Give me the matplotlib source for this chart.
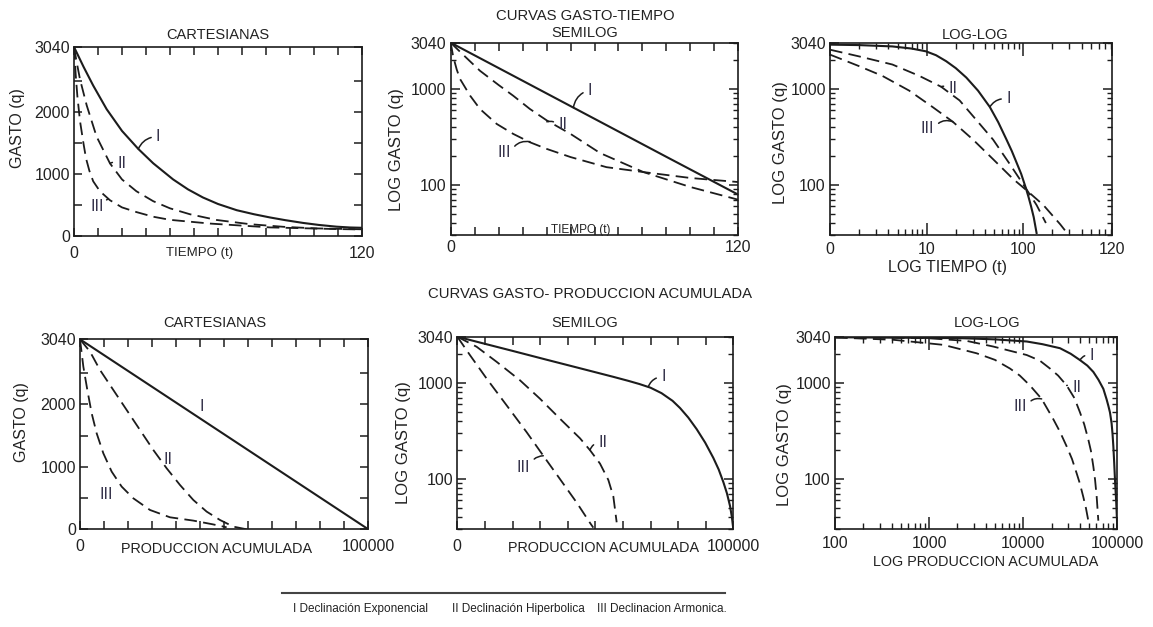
import matplotlib
matplotlib.use("Agg")
import matplotlib.pyplot as plt
from matplotlib.lines import Line2D
from matplotlib.ticker import NullFormatter, FixedLocator, LogLocator

plt.rcParams['font.family'] = ['Liberation Sans', 'DejaVu Sans']

# ---------------- data ----------------
# Gasto-tiempo, cartesianas
T1_I = [0, 4, 8, 13.6, 20, 26.8, 33, 41.3, 47.5, 53.7, 60, 67.8, 75, 81.7, 88, 95.5, 102, 109.4, 115, 120]
Q1_I = [3040, 2720, 2420, 2040, 1690, 1400, 1170, 910, 750, 620, 515, 415, 350, 298, 255, 210, 178, 150, 137, 132]
T1_II = [0, 1, 2.5, 5.3, 9.4, 15, 20, 26, 33, 40, 48.3, 59.4, 73.3, 87.2, 101, 120]
Q1_II = [3040, 2820, 2520, 2100, 1600, 1167, 910, 720, 560, 445, 350, 258, 190, 148, 122, 108]
T1_III = [0, 0.7, 1.4, 2.5, 3.9, 5.0, 6.4, 8.0, 10.8, 15, 20, 26, 33, 40, 56.7, 81.7, 109, 120]
Q1_III = [3040, 2600, 2250, 1850, 1500, 1250, 1050, 880, 720, 575, 460, 385, 310, 260, 200, 138, 112, 105]

# Gasto-tiempo, semilog
T2_I = [0, 30, 60, 90, 120]
Q2_I = [3040, 1220, 489, 196, 79]
T2_II = [0, 5, 12.2, 20, 26.1, 33, 40.1, 50, 62.3, 80.4, 100, 120]
Q2_II = [3040, 2300, 1550, 1100, 850, 620, 470, 340, 215, 136, 95, 70]
T2_III = [0, 1, 2.5, 3.9, 8.1, 12.2, 19.2, 26.1, 33.1, 40.1, 50, 65, 80.4, 100, 120]
Q2_III = [3040, 2200, 1600, 1271, 852, 619, 432, 340, 278, 237, 195, 153, 136, 118, 107]

# Gasto-tiempo, log-log
T3_I = [1, 2, 4.42, 7, 9.84, 12.5, 15.9, 20, 25.7, 34, 45, 55, 67, 76, 85, 95, 106, 113, 120, 128, 137]
Q3_I = [2900, 2870, 2780, 2640, 2470, 2250, 1950, 1650, 1316, 960, 649, 450, 296, 225, 171, 130, 93, 75, 60, 46, 31.5]
T3_II = [1, 1.99, 4.42, 8.39, 14.1, 21.9, 32.7, 48.7, 72.6, 108, 137, 171]
Q3_II = [2570, 2190, 1800, 1370, 1056, 760, 474, 296, 164, 89.6, 61.6, 40]
T3_III = [1, 1.99, 3.48, 6.6, 11.5, 18.6, 30.2, 48.7, 78.5, 108, 161, 241, 283]
Q3_III = [2283, 1734, 1370, 961, 649, 456, 296, 185, 115, 87.7, 61.6, 38.7, 31.5]

# Gasto-produccion acumulada, cartesianas
N4_I = [0, 50000, 100000]
Q4_I = [3040, 1520, 0]
N4_II = [0, 3468, 6936, 11561, 16185, 20809, 25434, 30058, 34682, 39306, 43931, 48555, 53179, 57803]
Q4_II = [3040, 2843, 2549, 2229, 1909, 1589, 1269, 976, 709, 469, 283, 149, 43, 0]
N4_III = [0, 1156, 2543, 4046, 5780, 8092, 10983, 14451, 18497, 24277, 31214, 39306, 46000, 50867]
Q4_III = [3040, 2603, 2229, 1856, 1536, 1216, 923, 683, 496, 309, 192, 139, 80, 32]

# Gasto-produccion acumulada, semilog
N5_I = [0, 8213, 20294, 32374, 44454, 56534, 62000, 66000, 70000, 74000, 78000, 80694, 83700,
        86734, 89800, 92774, 94700, 96398, 97700, 98814, 99500, 100000]
Q5_I = [3040, 2642, 2153, 1750, 1426, 1161, 1054, 977, 895, 785, 653, 550, 437,
        331, 240, 166, 126, 93, 71, 52.5, 40, 30.2]
N5_II = [0, 7006, 14254, 22710, 29958, 37206, 44454, 48077, 51701, 54721, 56534, 57742]
Q5_II = [3040, 2388, 1664, 1069, 687, 425, 266, 200, 145, 98, 66, 35.5]
N5_III = [0, 4590, 10630, 17878, 25126, 31166, 37206, 43246, 48077, 49285]
Q5_III = [3040, 1954, 1113, 586, 308, 175, 100, 57, 35, 31.2]

# Gasto-produccion acumulada, log-log
N6_I = [100, 2128, 5000, 10890, 16000, 24600, 32000, 40160, 48000, 55650, 63000, 71070, 77000,
        80500, 83590, 85500, 87000, 89000, 90780, 92700, 94540, 97500, 100000]
Q6_I = [3000, 2937, 2851, 2710, 2541, 2307, 2018, 1734, 1521, 1306, 1084, 871, 676,
        575, 494, 427, 380, 295, 219, 148, 97.5, 56, 31.4]
N6_II = [100, 942, 2500, 4815, 10890, 15000, 19270, 23500, 28970, 35000, 40160, 44500, 49200,
         52500, 55650, 58000, 60420, 62850]
Q6_II = [3000, 2937, 2750, 2400, 1960, 1714, 1416, 1197, 944, 698, 494, 372, 258,
         196, 135, 99, 65, 36.9]
N6_III = [100, 417, 1416, 3203, 5000, 7244, 9200, 11800, 15700, 20900, 24500, 28970, 33000,
          36980, 40000, 43550, 46500, 49200]
Q6_III = [2985, 2822, 2500, 2042, 1746, 1416, 1197, 944, 684, 420, 313, 219, 162,
          115, 90, 65, 49.5, 36.9]

LEGEND = ["I Declinación Exponencial", "II Declinación Hiperbolica", "III Declinacion Armonica."]

# ---------------- figure ----------------
W, H = 1153, 627
fig = plt.figure(figsize=(W / 100, H / 100), dpi=100)
LC = '#1c1c1c'
TC = '#222222'
LBL = '#35324a'


def add_ax(l, r, t, b):
    ax = fig.add_axes([l / W, 1 - b / H, (r - l) / W, (b - t) / H])
    for s in ax.spines.values():
        s.set_linewidth(1.2)
        s.set_color(LC)
    return ax


def ftext(x, y, s, size, rot=0, ha='center', va='center'):
    fig.text(x / W, 1 - y / H, s, fontsize=size, rotation=rot, ha=ha, va=va, color=TC)


def curves(ax, xs, ys):
    ax.plot(xs[0], ys[0], color=LC, lw=1.5, solid_joinstyle='round')
    ax.plot(xs[1], ys[1], color=LC, lw=1.3, dashes=(7, 3.5))
    ax.plot(xs[2], ys[2], color=LC, lw=1.3, dashes=(7, 3.5))


def label(ax, s, txy, pxy=None, side='left', rad=0.3):
    if pxy is None:
        ax.text(txy[0], txy[1], s, fontsize=11.5, color=LBL, ha='center', va='center')
        return
    rel = (0.0, 0.5) if side == 'left' else (1.0, 0.5)
    ax.annotate(s, xy=pxy, xytext=txy, fontsize=11.5, color=LBL, ha='center', va='center',
                arrowprops=dict(arrowstyle='-', lw=1.1, color=LC, shrinkA=1.5, shrinkB=0,
                                relpos=rel, connectionstyle='arc3,rad=%g' % rad))


def cart_ticks(ax, xmax, xminor, xlabels, xpad):
    ax.set_xlim(0, xmax)
    ax.set_ylim(0, 3040)
    ax.set_xticks([0, xmax])
    ax.set_xticklabels(xlabels)
    ax.xaxis.set_minor_locator(FixedLocator(xminor))
    ax.set_yticks([0, 1000, 2000, 3040])
    ax.set_yticklabels(['0', '1000', '2000', '3040'])
    ax.yaxis.set_minor_locator(FixedLocator([500, 1500, 2500]))
    ax.tick_params(which='both', direction='in', top=True, right=True, length=5.5,
                   width=1.1, color=LC, labelsize=11.5, labelcolor=TC)
    ax.tick_params(axis='x', pad=xpad)
    ax.tick_params(axis='y', pad=3)


def log_y(ax):
    ax.set_yscale('log')
    ax.set_ylim(30, 3040)
    ax.yaxis.set_major_locator(FixedLocator([100, 1000, 3040]))
    ax.set_yticklabels(['100', '1000', '3040'])
    ax.yaxis.set_minor_locator(LogLocator(base=10, subs=range(2, 10)))
    ax.yaxis.set_minor_formatter(NullFormatter())
    ax.tick_params(axis='y', which='major', direction='in', left=True, right=True, length=6.5,
                   width=1.1, color=LC, labelsize=11.5, labelcolor=TC, pad=3)
    ax.tick_params(axis='y', which='minor', direction='in', left=True, right=True, length=3.8,
                   width=1.0, color=LC)


# ---- Panel 1: cartesian vs time
ax1 = add_ax(74, 362, 47, 236)
curves(ax1, [T1_I, T1_II, T1_III], [Q1_I, Q1_II, Q1_III])
cart_ticks(ax1, 120, list(range(10, 120, 10)), ['0', '120'], 7)
label(ax1, 'I', (35.1, 1597), (26.8, 1400), 'left', 0.3)
label(ax1, 'II', (19.9, 1169), (15, 1167), 'left', 0.3)
label(ax1, 'III', (9.6, 470), (14.3, 595), 'right', -0.4)

# ---- Panel 2: semilog vs time
ax2 = add_ax(450.7, 738.3, 42.7, 235)
curves(ax2, [T2_I, T2_II, T2_III], [Q2_I, Q2_II, Q2_III])
ax2.set_xlim(0, 120)
ax2.set_xticks([0, 120])
ax2.set_xticklabels(['0', '120'])
ax2.xaxis.set_minor_locator(FixedLocator(list(range(10, 120, 10))))
ax2.tick_params(axis='x', which='both', direction='in', top=True, bottom=True, length=5.5,
                width=1.1, color=LC, labelsize=11.5, labelcolor=TC, pad=3.5)
log_y(ax2)
label(ax2, 'I', (58.1, 960), (51.2, 640), 'left', 0.3)
label(ax2, 'II', (46.7, 422), (40.1, 455), 'left', 0.3)
label(ax2, 'III', (22.2, 215), (33.1, 282), 'right', -0.4)

# ---- Panel 3: log-log vs time
ax3 = add_ax(830, 1111.7, 42.7, 235)
curves(ax3, [T3_I, T3_II, T3_III], [Q3_I, Q3_II, Q3_III])
ax3.set_xscale('log')
ax3.set_xlim(1, 820)
ax3.xaxis.set_major_locator(FixedLocator([1, 10, 100, 820]))
ax3.set_xticklabels(['0', '10', '100', '120'])
ax3.xaxis.set_minor_locator(LogLocator(base=10, subs=range(2, 10)))
ax3.xaxis.set_minor_formatter(NullFormatter())
ax3.tick_params(axis='x', which='major', direction='in', top=True, bottom=True, length=9,
                width=1.1, color=LC, labelsize=11.5, labelcolor=TC, pad=5)
ax3.tick_params(axis='x', which='minor', direction='in', top=True, bottom=True, length=4,
                width=1.0, color=LC)
log_y(ax3)
label(ax3, 'I', (69.9, 790), (45, 649), 'left', 0.3)
label(ax3, 'II', (18.7, 1020), (14.1, 1056), 'left', 0.3)
label(ax3, 'III', (10.2, 390), (18.7, 455), 'right', -0.4)

# ---- Panel 4: cartesian vs cumulative production
ax4 = add_ax(80, 368.3, 339.3, 529.3)
curves(ax4, [N4_I, N4_II, N4_III], [Q4_I, Q4_II, Q4_III])
cart_ticks(ax4, 100000, [k * 100000 / 12 for k in range(1, 12)], ['0', '100000'], 7)
label(ax4, 'I', (42200, 1962))
label(ax4, 'II', (30630, 1109))
label(ax4, 'III', (9260, 549))

# ---- Panel 5: semilog vs cumulative production
ax5 = add_ax(457.3, 733.3, 336.7, 529.3)
curves(ax5, [N5_I, N5_II, N5_III], [Q5_I, Q5_II, Q5_III])
ax5.set_xlim(0, 100000)
ax5.set_xticks([0, 100000])
ax5.set_xticklabels(['0', '100000'])
ax5.xaxis.set_minor_locator(FixedLocator([k * 10000 for k in range(1, 10)]))
ax5.tick_params(axis='x', which='both', direction='in', top=True, bottom=True, length=5.5,
                width=1.1, color=LC, labelsize=11.5, labelcolor=TC, pad=7)
log_y(ax5)
label(ax5, 'I', (74640, 1159), (69200, 915), 'left', 0.3)
label(ax5, 'II', (52680, 238), (48080, 200), 'left', 0.3)
label(ax5, 'III', (23910, 132), (31160, 175), 'right', -0.4)

# ---- Panel 6: log-log vs cumulative production
ax6 = add_ax(835, 1117.3, 336.7, 529.3)
curves(ax6, [N6_I, N6_II, N6_III], [Q6_I, Q6_II, Q6_III])
ax6.set_xscale('log')
ax6.set_xlim(100, 100000)
ax6.xaxis.set_major_locator(FixedLocator([100, 1000, 10000, 100000]))
ax6.set_xticklabels(['100', '1000', '10000', '100000'])
ax6.xaxis.set_minor_locator(LogLocator(base=10, subs=range(2, 10)))
ax6.xaxis.set_minor_formatter(NullFormatter())
ax6.tick_params(axis='x', which='major', direction='in', top=True, bottom=True, length=9,
                width=1.1, color=LC, labelsize=11.5, labelcolor=TC, pad=5)
ax6.tick_params(axis='x', which='minor', direction='in', top=True, bottom=True, length=4,
                width=1.0, color=LC)
log_y(ax6)
label(ax6, 'I', (53500, 1960), (40160, 1734), 'left', 0.3)
label(ax6, 'II', (37000, 907), (28970, 944), 'left', 0.3)
label(ax6, 'III', (9250, 567), (15700, 684), 'right', -0.4)

# ---------------- titles and axis labels ----------------
ftext(585, 16, 'CURVAS GASTO-TIEMPO', 10.7)
ftext(218, 35, 'CARTESIANAS', 10.5)
ftext(585, 33, 'SEMILOG', 10.5)
ftext(975, 35, 'LOG-LOG', 10.5)
ftext(590, 294, 'CURVAS GASTO- PRODUCCION ACUMULADA', 10.7)
ftext(215, 323, 'CARTESIANAS', 10.5)
ftext(585, 323, 'SEMILOG', 10.5)
ftext(987, 323, 'LOG-LOG', 10.5)

ftext(200, 253, 'TIEMPO (t)', 9.5)
ftext(581, 230, 'TIEMPO (t)', 8.5)
ftext(947, 268, 'LOG TIEMPO (t)', 11.5)
ftext(217, 549, 'PRODUCCION ACUMULADA', 10.4)
ftext(604, 548, 'PRODUCCION ACUMULADA', 10.4)
ftext(986, 562, 'LOG PRODUCCION ACUMULADA', 10.4)

ftext(18, 128, 'GASTO (q)', 11.5, rot=90)
ftext(397, 150, 'LOG GASTO (q)', 12, rot=90)
ftext(780, 143, 'LOG GASTO (q)', 12, rot=90)
ftext(22, 422, 'GASTO (q)', 11.5, rot=90)
ftext(403, 443, 'LOG GASTO (q)', 12, rot=90)
ftext(785, 445, 'LOG GASTO (q)', 12, rot=90)

# ---------------- legend ----------------
fig.add_artist(Line2D([282 / W, 725 / W], [1 - 593 / H, 1 - 593 / H], color='#444444', lw=1.5))
for xpos, s in zip([293, 452, 597], LEGEND):
    ftext(xpos, 609, s, 8.5, ha='left')

fig.savefig('out.png', dpi=100, facecolor='white')
